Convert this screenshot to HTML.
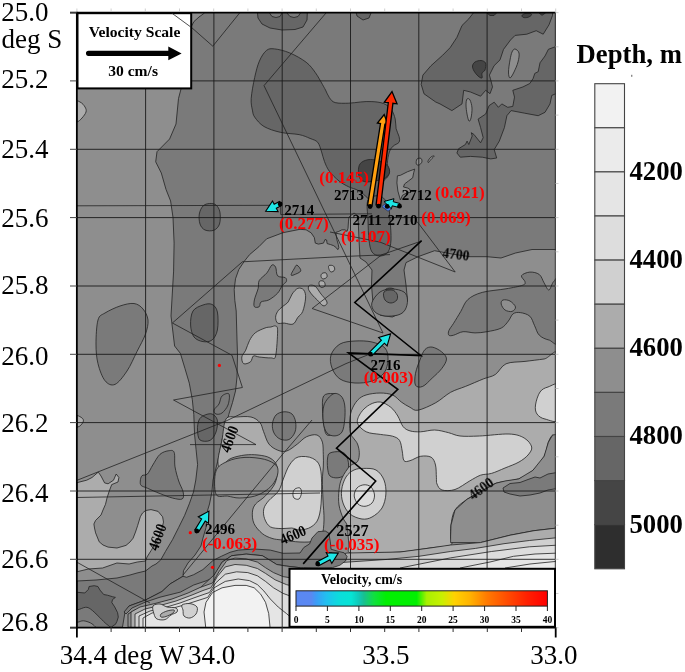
<!DOCTYPE html>
<html><head><meta charset="utf-8"><style>
html,body{margin:0;padding:0;background:#fff;width:685px;height:672px;overflow:hidden}
svg{display:block;will-change:transform}
text{font-family:"Liberation Serif",serif}
</style></head><body>
<svg width="685" height="672" viewBox="0 0 685 672">
<defs><clipPath id="pc"><rect x="77.9" y="13.5" width="477.4" height="613.1"/></clipPath>
<linearGradient id="vg" x1="0" x2="1" y1="0" y2="0"><stop offset="0" stop-color="#5a88f2"/><stop offset="0.06" stop-color="#5a88f2"/><stop offset="0.08" stop-color="#3c9cf6"/><stop offset="0.12" stop-color="#22bff0"/><stop offset="0.17" stop-color="#0cdcdc"/><stop offset="0.22" stop-color="#06e4d4"/><stop offset="0.25" stop-color="#10c8b8"/><stop offset="0.27" stop-color="#18c090"/><stop offset="0.31" stop-color="#10e040"/><stop offset="0.36" stop-color="#00f000"/><stop offset="0.48" stop-color="#00f000"/><stop offset="0.52" stop-color="#a8f000"/><stop offset="0.58" stop-color="#c8f000"/><stop offset="0.63" stop-color="#ffd200"/><stop offset="0.69" stop-color="#ffb400"/><stop offset="0.76" stop-color="#ff7a00"/><stop offset="0.84" stop-color="#ff4c00"/><stop offset="0.92" stop-color="#ff2000"/><stop offset="1" stop-color="#ff0000"/></linearGradient></defs>
<g opacity="0.999">
<g clip-path="url(#pc)">
<rect x="77.9" y="13.5" width="477.4" height="613.1" fill="#8e8e8e"/>
<path d="M201.0,8.0 L560.0,8.0 L560.0,249.5 L532.0,249.5 L515.5,253.0 L501.0,258.0 L487.0,256.7 L470.0,256.7 L453.6,254.3 L434.6,250.7 L418.0,256.7 L406.0,262.6 L404.0,270.0 L406.0,285.0 L407.5,300.0 L403.0,312.0 L392.3,317.0 L380.4,315.3 L373.0,303.4 L371.5,285.0 L372.0,270.0 L366.0,262.0 L360.0,258.0 L359.0,240.0 L358.0,216.0 L354.0,213.0 L349.0,217.0 L348.5,221.1 L348.0,228.3 L347.0,231.4 L345.0,229.8 L341.9,229.8 L338.8,231.4 L335.8,232.4 L336.8,239.5 L338.3,244.6 L338.8,247.7 L337.8,249.7 L336.3,247.7 L333.7,245.7 L330.7,244.6 L327.1,243.6 L326.6,240.0 L325.0,239.5 L323.5,243.1 L318.4,244.1 L315.3,243.1 L314.3,237.5 L311.2,232.9 L306.1,229.8 L300.0,229.3 L283.0,232.7 L266.7,238.8 L258.9,246.7 L249.5,254.7 L244.2,261.4 L238.8,269.5 L235.5,278.8 L234.2,289.5 L234.8,300.3 L236.2,311.0 L237.0,340.0 L237.5,355.0 L237.0,377.0 L235.5,391.0 L232.5,402.5 L228.8,414.4 L226.5,423.3 L222.0,440.0 L218.0,460.0 L213.0,480.0 L211.9,492.0 L209.5,504.0 L207.7,510.0 L206.0,527.6 L203.0,538.0 L200.9,546.1 L195.0,555.0 L188.0,563.0 L183.5,570.7 L183.0,576.3 L170.0,584.0 L162.0,591.5 L145.5,600.0 L129.0,606.0 L125.0,612.0 L122.0,630.0 L70.0,630.0 L70.0,581.0 L77.0,581.0 L96.0,580.0 L117.0,578.0 L130.0,575.0 L137.0,573.0 L145.5,571.0 L152.0,566.0 L156.0,564.0 L160.7,560.0 L165.5,551.4 L172.6,539.5 L178.6,527.6 L184.5,515.7 L189.3,503.8 L193.5,492.0 L195.8,480.0 L197.6,464.6 L196.1,449.8 L194.6,434.9 L193.8,414.4 L192.3,399.5 L189.3,383.2 L184.9,368.3 L180.4,353.4 L174.6,346.0 L171.0,316.0 L173.6,271.1 L174.1,243.1 L173.0,217.4 L170.6,201.0 L166.0,189.4 L161.3,173.0 L157.8,166.0 L155.7,161.8 L157.0,151.7 L169.6,139.0 L176.0,124.0 L178.5,98.5 L181.0,89.0 L186.0,60.0 L191.0,26.0 Z" fill="#7a7a7a" stroke="#222" stroke-width="0.8"/>
<path d="M70.0,100.0 C71.7,96.7 77.5,100.8 80.0,102.0 C82.5,103.2 84.0,105.3 85.0,107.0 C86.0,108.7 86.5,110.2 86.0,112.0 C85.5,113.8 83.5,116.3 82.0,118.0 C80.5,119.7 79.0,121.3 77.0,122.0 C75.0,122.7 71.2,125.7 70.0,122.0 C68.8,118.3 68.3,103.3 70.0,100.0 Z" fill="#acacac" stroke="#222" stroke-width="0.8"/>
<path d="M98.0,320.0 C99.5,314.8 101.3,315.3 105.0,313.0 C108.7,310.7 115.2,307.6 120.0,306.0 C124.8,304.4 130.2,303.0 134.0,303.5 C137.8,304.0 140.7,306.2 143.0,309.0 C145.3,311.8 147.6,315.8 148.0,320.0 C148.4,324.2 147.3,328.8 145.5,334.0 C143.7,339.2 140.1,345.3 137.0,351.5 C133.9,357.7 130.7,365.5 127.0,371.0 C123.3,376.5 118.7,382.8 115.0,384.4 C111.3,386.0 107.8,384.1 105.0,380.7 C102.2,377.2 99.5,369.8 98.0,363.7 C96.5,357.6 96.0,351.3 96.0,344.0 C96.0,336.7 96.5,325.2 98.0,320.0 Z" fill="#7a7a7a" stroke="#222" stroke-width="0.8"/>
<path d="M271.8,265.1 C273.2,264.1 274.6,265.3 275.6,267.1 C276.6,268.9 276.0,274.0 277.6,275.8 C279.2,277.6 283.9,276.7 285.3,277.7 C286.8,278.7 286.8,280.3 286.3,281.6 C285.8,282.9 283.8,283.5 282.4,285.4 C280.9,287.3 279.9,290.8 277.6,293.2 C275.4,295.6 271.6,298.4 268.9,299.9 C266.1,301.3 262.7,300.8 261.1,301.9 C259.5,303.0 260.3,305.9 259.2,306.7 C258.1,307.5 255.2,307.8 254.4,306.7 C253.6,305.6 253.8,303.0 254.4,299.9 C255.0,296.8 257.4,291.5 258.2,288.3 C259.0,285.1 257.8,283.2 259.2,280.6 C260.6,278.0 264.8,275.5 266.9,272.9 C269.0,270.3 270.4,266.1 271.8,265.1 Z" fill="#7a7a7a" stroke="#222" stroke-width="0.8"/>
<path d="M296.9,265.1 C298.0,265.4 301.3,269.3 300.8,270.9 C300.3,272.5 295.6,274.1 294.0,274.8 C292.4,275.5 291.1,275.8 291.1,274.8 C291.1,273.8 293.0,270.6 294.0,269.0 C295.0,267.4 295.8,264.8 296.9,265.1 Z" fill="#7a7a7a" stroke="#222" stroke-width="0.8"/>
<path d="M297.9,288.3 C299.8,287.6 302.4,288.3 303.7,289.9 C305.0,291.5 305.8,294.4 305.6,298.0 C305.4,301.6 304.0,308.3 302.7,311.5 C301.4,314.7 299.5,315.2 297.9,317.3 C296.3,319.4 295.3,323.1 293.0,324.1 C290.7,325.1 286.9,323.3 284.3,323.1 C281.7,322.9 279.1,324.1 277.6,323.1 C276.2,322.1 275.6,319.2 275.6,317.3 C275.6,315.4 276.5,313.3 277.6,311.5 C278.7,309.7 280.6,308.3 282.4,306.7 C284.2,305.1 286.6,304.0 288.2,301.9 C289.8,299.8 290.5,296.4 292.1,294.1 C293.7,291.8 296.0,289.0 297.9,288.3 Z" fill="#acacac" stroke="#222" stroke-width="0.8"/>
<path d="M275.6,326.0 C276.7,326.6 277.6,325.9 277.6,330.9 C277.6,335.9 276.7,351.5 275.6,356.0 C274.5,360.5 273.5,357.7 270.8,357.9 C268.1,358.1 262.1,357.3 259.2,357.0 C256.3,356.7 254.8,355.2 253.4,356.0 C252.0,356.8 252.1,360.5 250.5,361.8 C248.9,363.1 245.1,364.5 243.7,363.7 C242.2,362.9 241.5,359.2 241.8,357.0 C242.1,354.8 244.4,352.9 245.7,350.2 C247.0,347.4 247.9,343.4 249.5,340.5 C251.1,337.6 252.7,334.9 255.3,332.8 C257.9,330.7 262.4,329.0 265.0,328.0 C267.6,327.0 269.0,327.3 270.8,327.0 C272.6,326.7 274.5,325.4 275.6,326.0 Z" fill="#acacac" stroke="#222" stroke-width="0.8"/>
<path d="M309.5,285.4 C310.6,284.9 313.4,284.9 315.3,286.4 C317.2,287.8 319.3,291.9 321.1,294.1 C322.9,296.4 324.9,298.3 325.9,299.9 C326.9,301.5 327.4,302.8 326.9,303.8 C326.4,304.8 324.6,306.4 323.0,305.7 C321.4,305.0 319.0,301.7 317.2,299.9 C315.4,298.1 313.8,296.9 312.4,295.1 C310.9,293.3 309.0,290.9 308.5,289.3 C308.0,287.7 308.4,285.9 309.5,285.4 Z" fill="#acacac" stroke="#222" stroke-width="0.8"/>
<path d="M329.0,265.5 C329.8,265.1 332.6,265.2 333.5,266.0 C334.4,266.8 335.0,269.0 334.6,270.0 C334.2,271.0 332.0,272.2 331.0,272.0 C330.0,271.8 329.1,269.6 328.8,268.5 C328.5,267.4 328.2,265.9 329.0,265.5 Z" fill="#acacac" stroke="#222" stroke-width="0.8"/>
<path d="M322.0,273.5 C322.8,272.9 325.2,272.4 326.0,273.0 C326.8,273.6 327.5,276.0 327.0,277.0 C326.5,278.0 324.0,279.1 323.0,279.0 C322.0,278.9 321.2,277.4 321.0,276.5 C320.8,275.6 321.2,274.1 322.0,273.5 Z" fill="#acacac" stroke="#222" stroke-width="0.8"/>
<path d="M320.0,281.0 C320.8,280.6 323.2,280.7 324.0,281.5 C324.8,282.3 325.5,285.0 325.0,286.0 C324.5,287.0 322.0,287.7 321.0,287.4 C320.0,287.1 319.2,285.1 319.0,284.0 C318.8,282.9 319.2,281.4 320.0,281.0 Z" fill="#acacac" stroke="#222" stroke-width="0.8"/>
<path d="M222.0,396.0 C223.7,394.3 228.0,392.5 229.0,394.0 C230.0,395.5 229.2,401.8 228.0,405.0 C226.8,408.2 224.0,411.5 222.0,413.0 C220.0,414.5 217.3,414.5 216.0,414.0 C214.7,413.5 213.5,411.7 214.0,410.0 C214.5,408.3 217.7,406.3 219.0,404.0 C220.3,401.7 220.3,397.7 222.0,396.0 Z" fill="#7a7a7a" stroke="#222" stroke-width="0.8"/>
<path d="M70.0,415.0 C71.2,413.1 75.0,414.9 77.0,415.4 C79.0,415.9 80.9,417.1 82.0,418.0 C83.1,418.9 83.6,419.8 83.4,421.0 C83.2,422.2 82.1,423.9 81.0,425.0 C79.9,426.1 78.8,427.0 77.0,427.3 C75.2,427.6 71.2,429.1 70.0,427.0 C68.8,424.9 68.8,416.9 70.0,415.0 Z" fill="#acacac" stroke="#222" stroke-width="0.8"/>
<path d="M209.5,203.5 C211.7,203.3 214.3,203.6 216.0,205.0 C217.7,206.4 219.3,208.8 219.9,212.0 C220.5,215.2 220.5,221.0 219.5,224.0 C218.5,227.0 216.4,229.2 214.0,230.2 C211.6,231.2 207.3,231.0 205.0,230.0 C202.7,229.0 200.9,226.7 200.0,224.0 C199.1,221.3 198.8,217.0 199.3,214.0 C199.8,211.0 201.3,207.8 203.0,206.0 C204.7,204.2 207.3,203.7 209.5,203.5 Z" fill="#666666" stroke="#222" stroke-width="0.8"/>
<path d="M203.0,305.0 C206.2,303.9 209.6,303.2 212.0,304.4 C214.4,305.6 216.5,307.7 217.4,312.0 C218.3,316.3 218.3,325.3 217.4,330.0 C216.5,334.7 214.4,338.1 212.0,340.0 C209.6,341.9 206.0,342.1 203.0,341.6 C200.0,341.1 196.1,339.8 194.0,337.0 C191.9,334.2 190.8,329.3 190.6,325.0 C190.4,320.7 190.9,314.3 193.0,311.0 C195.1,307.7 199.8,306.1 203.0,305.0 Z" fill="#666666" stroke="#222" stroke-width="0.8"/>
<path d="M204.0,415.4 C206.2,414.4 209.8,413.2 212.0,414.0 C214.2,414.8 216.6,417.0 217.3,420.0 C218.0,423.0 217.2,428.6 216.0,432.0 C214.8,435.4 212.7,439.1 210.0,440.4 C207.3,441.7 202.1,441.7 200.0,440.0 C197.9,438.3 197.7,433.3 197.5,430.0 C197.3,426.7 197.9,422.4 199.0,420.0 C200.1,417.6 201.8,416.4 204.0,415.4 Z" fill="#666666" stroke="#222" stroke-width="0.8"/>
<path d="M140.3,481.0 C140.4,479.4 140.8,476.9 142.0,475.7 C143.2,474.5 145.6,475.8 147.4,474.0 C149.2,472.2 150.7,468.3 152.8,465.0 C154.9,461.7 157.3,456.7 160.0,454.3 C162.7,451.9 166.5,451.0 168.9,450.7 C171.3,450.4 173.2,449.8 174.2,452.5 C175.2,455.2 174.2,462.1 175.0,466.8 C175.8,471.6 177.3,476.8 178.7,481.0 C180.0,485.2 182.5,488.8 183.1,491.8 C183.7,494.8 184.0,498.0 182.2,499.0 C180.4,500.0 176.1,498.9 172.4,498.0 C168.7,497.1 164.2,495.2 160.0,493.6 C155.8,492.0 150.5,489.6 147.4,488.2 C144.3,486.8 142.4,486.7 141.2,485.5 C140.0,484.3 140.2,482.6 140.3,481.0 Z" fill="#7a7a7a" stroke="#222" stroke-width="0.8"/>
<path d="M70.0,483.0 L76.0,482.9 L86.7,480.2 L92.0,477.5 L98.3,472.1 L101.0,476.0 L104.6,482.9 L108.1,483.8 L113.5,480.2 L116.2,474.0 L118.9,477.5 L118.0,482.0 L111.7,484.6 L109.0,491.8 L107.0,498.0 L105.5,504.3 L103.0,510.0 L101.0,515.0 L95.6,520.4 L93.9,524.0 L94.5,528.0 L95.6,532.9 L99.2,541.8 L103.0,545.0 L108.1,547.1 L117.0,548.0 L126.0,545.4 L130.0,542.0 L133.1,538.2 L135.5,532.0 L137.6,525.7 L140.3,516.8 L142.5,513.0 L145.6,510.5 L151.0,509.6 L158.1,511.4 L162.6,516.8 L163.5,522.1 L161.7,529.3 L159.0,536.0 L156.4,541.8 L151.0,550.7 L147.0,557.0 L145.5,561.0 L137.3,562.0 L129.1,564.0 L116.9,563.0 L102.6,568.0 L88.3,569.0 L76.0,572.0 L70.0,572.0 Z" fill="#acacac" stroke="#222" stroke-width="0.8"/>
<path d="M70.0,592.3 L77.5,592.3 L84.8,593.0 L88.4,589.4 L89.1,586.5 L94.2,585.7 L97.9,586.5 L100.0,590.1 L103.7,594.5 L107.4,595.2 L112.5,596.7 L115.4,597.4 L112.5,599.6 L111.8,602.5 L114.7,606.9 L117.6,612.7 L118.3,617.1 L116.9,621.5 L115.4,624.4 L112.5,626.0 L110.0,630.0 L70.0,630.0 Z" fill="#666666" stroke="#222" stroke-width="0.8"/>
<path d="M70.0,609.8 C71.2,606.4 74.9,610.2 77.5,609.8 C80.1,609.4 83.3,607.4 85.5,607.3 C87.7,607.2 88.5,607.7 90.6,609.1 C92.7,610.5 95.5,613.4 97.9,615.7 C100.3,618.0 103.4,621.3 105.2,623.0 C107.0,624.7 108.0,624.8 108.8,626.0 C109.6,627.2 116.5,629.3 110.0,630.0 C103.5,630.7 76.7,633.4 70.0,630.0 C63.3,626.6 68.8,613.2 70.0,609.8 Z" fill="#7a7a7a" stroke="#222" stroke-width="0.8"/>
<path d="M70.0,622.2 C71.2,620.9 75.3,622.4 77.5,622.2 C79.7,622.0 81.1,620.7 83.3,620.8 C85.5,620.9 88.6,622.0 90.6,623.0 C92.5,624.0 94.1,625.4 95.0,626.6 C95.9,627.8 100.2,629.4 96.0,630.0 C91.8,630.6 74.3,631.3 70.0,630.0 C65.7,628.7 68.8,623.5 70.0,622.2 Z" fill="#8e8e8e" stroke="#222" stroke-width="0.8"/>
<path d="M257.0,8.0 L258.0,18.0 L262.0,24.0 L270.0,28.0 L282.0,30.0 L295.0,29.5 L303.0,27.0 L307.0,20.0 L307.5,8.0 Z" fill="#666666" stroke="#222" stroke-width="0.8"/>
<path d="M269.5,8.0 L269.5,13.0 L272.0,16.5 L276.0,17.5 L280.0,16.5 L282.0,13.0 L282.0,8.0 Z" fill="#7a7a7a" stroke="#222" stroke-width="0.8"/>
<path d="M287.0,8.0 L287.0,13.0 L290.0,16.5 L294.0,17.5 L298.0,16.5 L300.5,13.0 L300.5,8.0 Z" fill="#7a7a7a" stroke="#222" stroke-width="0.8"/>
<path d="M191.0,8.0 L206.0,8.0 L204.5,13.0 L199.0,17.0 L194.0,21.5 L191.0,27.0 Z" fill="#8e8e8e" stroke="#222" stroke-width="0.8"/>
<path d="M355.0,8.0 L357.0,16.0 L363.0,20.0 L369.0,18.0 L371.0,13.0 L371.5,8.0 Z" fill="#666666" stroke="#222" stroke-width="0.8"/>
<path d="M266.4,50.5 C268.9,48.5 270.6,48.5 274.5,48.9 C278.4,49.3 284.4,50.7 289.7,52.9 C295.0,55.1 301.8,58.9 306.1,62.2 C310.4,65.5 312.7,69.0 315.4,72.7 C318.1,76.4 320.7,81.5 322.4,84.4 C324.1,87.3 324.3,87.8 325.5,90.0 C326.7,92.2 327.8,95.6 329.4,97.7 C331.0,99.8 332.0,101.7 335.2,102.6 C338.4,103.5 344.5,103.3 348.7,103.2 C352.9,103.1 356.4,102.3 360.3,102.0 C364.2,101.7 368.0,101.3 371.9,101.6 C375.8,101.8 380.3,102.2 383.5,103.5 C386.7,104.8 389.4,106.8 391.3,109.4 C393.2,112.0 394.4,115.8 395.2,119.0 C396.0,122.2 395.5,125.8 396.1,128.7 C396.7,131.6 398.5,134.1 399.0,136.4 C399.5,138.7 400.0,140.7 399.0,142.3 C398.0,143.9 394.8,144.5 393.2,146.1 C391.6,147.7 390.4,149.0 389.4,151.9 C388.4,154.8 387.4,160.3 387.4,163.5 C387.4,166.7 389.4,169.0 389.4,171.3 C389.4,173.6 388.4,175.5 387.4,177.1 C386.4,178.7 384.9,178.8 383.5,181.0 C382.1,183.2 380.1,186.8 379.0,190.0 C377.9,193.2 377.8,197.3 377.0,200.0 C376.2,202.7 375.5,206.3 374.0,206.0 C372.5,205.7 370.6,201.0 368.0,198.4 C365.4,195.8 361.6,192.5 358.4,190.6 C355.2,188.7 351.9,188.4 348.7,186.8 C345.5,185.2 342.2,183.6 339.0,181.0 C335.8,178.4 331.8,174.5 329.4,171.3 C327.0,168.1 325.8,164.8 324.5,161.6 C323.2,158.4 322.7,155.1 321.6,151.9 C320.5,148.7 319.6,144.6 317.7,142.3 C315.8,140.1 313.1,139.7 310.0,138.4 C306.9,137.1 304.0,135.6 299.1,134.6 C294.2,133.6 286.2,133.7 280.4,132.3 C274.5,131.0 268.3,129.0 264.0,126.5 C259.7,124.0 256.6,119.8 254.7,117.1 C252.8,114.4 253.0,113.2 252.4,110.1 C251.8,107.0 250.8,103.9 251.2,98.4 C251.6,93.0 253.3,83.6 254.7,77.4 C256.1,71.2 257.4,65.6 259.4,61.1 C261.3,56.6 263.9,52.5 266.4,50.5 Z" fill="#666666" stroke="#222" stroke-width="0.8"/>
<path d="M360.3,163.5 C361.9,161.6 365.1,160.2 368.0,159.7 C370.9,159.2 374.5,159.6 377.7,160.6 C380.9,161.6 385.4,163.4 387.4,165.5 C389.3,167.6 390.0,170.9 389.4,173.2 C388.8,175.4 386.1,177.7 383.5,179.0 C380.9,180.3 376.8,180.5 373.9,181.0 C371.0,181.5 368.4,182.2 366.1,181.9 C363.8,181.6 361.6,180.8 360.3,179.0 C359.0,177.2 358.4,173.9 358.4,171.3 C358.4,168.7 358.7,165.4 360.3,163.5 Z" fill="#454545" stroke="#222" stroke-width="0.8"/>
<path d="M368.0,200.0 C370.0,196.0 376.7,195.2 380.0,196.0 C383.3,196.8 386.3,201.0 388.0,205.0 C389.7,209.0 389.5,214.2 390.0,220.0 C390.5,225.8 391.3,234.7 391.0,240.0 C390.7,245.3 389.8,249.3 388.0,252.0 C386.2,254.7 382.7,256.0 380.0,256.0 C377.3,256.0 373.8,254.7 372.0,252.0 C370.2,249.3 369.7,245.3 369.0,240.0 C368.3,234.7 368.2,226.7 368.0,220.0 C367.8,213.3 366.0,204.0 368.0,200.0 Z" fill="#666666" stroke="#222" stroke-width="0.8"/>
<path d="M386.0,289.0 C387.7,287.9 391.2,287.8 393.0,288.5 C394.8,289.2 396.4,291.1 397.0,293.0 C397.6,294.9 397.8,298.3 396.8,300.0 C395.8,301.7 393.1,302.8 391.0,303.0 C388.9,303.2 385.3,302.3 384.0,301.0 C382.7,299.7 382.7,297.0 383.0,295.0 C383.3,293.0 384.3,290.1 386.0,289.0 Z" fill="#666666" stroke="#222" stroke-width="0.8"/>
<path d="M397.4,175.8 L400.4,175.3 L407.6,171.7 L414.7,169.1 L413.7,172.7 L412.7,177.8 L408.6,180.9 L404.5,184.0 L403.5,187.0 L407.6,188.0 L409.6,189.0 L410.7,192.1 L406.6,193.1 L402.5,195.2 L400.4,200.0 L397.9,191.1 L396.9,182.9 Z" fill="#8e8e8e" stroke="#222" stroke-width="0.8"/>
<path d="M417.0,159.0 C417.8,158.1 420.2,157.9 421.0,158.4 C421.8,158.9 422.2,160.9 421.9,162.0 C421.6,163.1 419.9,164.7 419.0,165.0 C418.1,165.3 416.6,165.0 416.3,164.0 C416.0,163.0 416.2,159.9 417.0,159.0 Z" fill="#8e8e8e" stroke="#222" stroke-width="0.8"/>
<path d="M428.0,161.0 C428.4,160.1 430.0,157.8 431.0,157.0 C432.0,156.2 434.2,155.6 434.2,156.0 C434.2,156.4 431.9,158.4 431.0,159.5 C430.1,160.6 429.0,162.2 428.5,162.5 C428.0,162.8 427.6,161.9 428.0,161.0 Z" fill="#8e8e8e" stroke="#222" stroke-width="0.8"/>
<path d="M475.6,8.0 L475.6,10.0 L468.8,18.8 L462.0,25.5 L456.9,37.4 L450.2,47.6 L442.7,55.2 L431.0,65.7 L422.9,75.1 L421.2,84.4 L424.0,93.8 L435.7,102.0 L440.0,103.9 L451.9,110.6 L462.0,103.9 L463.7,90.3 L470.5,92.0 L480.6,96.2 L485.7,90.3 L490.0,93.7 L492.5,86.9 L490.8,80.2 L489.4,75.1 L494.1,65.7 L500.0,59.9 L503.5,49.4 L510.5,40.0 L515.1,35.4 L526.8,34.2 L536.2,30.7 L543.2,34.2 L549.0,24.8 L552.5,15.5 L553.0,8.0 Z" fill="#666666" stroke="#222" stroke-width="0.8"/>
<path d="M475.0,62.0 C476.4,61.1 479.2,60.3 481.0,60.5 C482.8,60.7 484.8,61.4 485.5,63.0 C486.2,64.6 485.6,68.3 485.0,70.0 C484.4,71.7 482.5,71.7 482.0,73.0 C481.5,74.3 482.7,77.5 482.0,78.0 C481.3,78.5 479.3,77.2 478.0,76.0 C476.7,74.8 474.9,72.7 474.0,71.0 C473.1,69.3 472.3,67.5 472.5,66.0 C472.7,64.5 473.6,62.9 475.0,62.0 Z" fill="#454545" stroke="#222" stroke-width="0.8"/>
<path d="M515.0,49.0 C516.2,49.2 518.5,50.8 519.0,53.0 C519.5,55.2 518.8,58.8 518.0,62.0 C517.2,65.2 515.3,69.3 514.0,72.0 C512.7,74.7 510.9,78.0 510.0,78.0 C509.1,78.0 508.5,75.0 508.5,72.0 C508.5,69.0 509.4,63.3 510.0,60.0 C510.6,56.7 511.2,53.8 512.0,52.0 C512.8,50.2 513.8,48.8 515.0,49.0 Z" fill="#8e8e8e" stroke="#222" stroke-width="0.8"/>
<path d="M467.0,99.0 C467.7,98.2 469.2,98.5 470.0,100.0 C470.8,101.5 471.8,105.0 472.0,108.0 C472.2,111.0 471.5,115.8 471.0,118.0 C470.5,120.2 469.7,121.7 469.0,121.0 C468.3,120.3 467.5,116.7 467.0,114.0 C466.5,111.3 466.0,107.5 466.0,105.0 C466.0,102.5 466.3,99.8 467.0,99.0 Z" fill="#8e8e8e" stroke="#222" stroke-width="0.8"/>
<path d="M487.0,8.0 L487.0,13.0 L490.0,15.5 L494.0,15.5 L496.5,13.0 L496.5,8.0 Z" fill="#454545" stroke="#222" stroke-width="0.8"/>
<path d="M522.0,15.5 C522.2,14.8 523.7,13.9 525.0,13.5 C526.3,13.1 528.9,12.9 530.0,13.2 C531.1,13.4 531.8,14.3 531.5,15.0 C531.2,15.7 529.3,16.9 528.0,17.3 C526.7,17.7 524.5,17.8 523.5,17.5 C522.5,17.2 521.8,16.2 522.0,15.5 Z" fill="#454545" stroke="#222" stroke-width="0.8"/>
<path d="M539.0,8.0 L539.0,13.0 L542.0,15.3 L545.5,13.0 L545.5,8.0 Z" fill="#454545" stroke="#222" stroke-width="0.8"/>
<path d="M560.0,45.0 L548.4,49.3 L545.0,56.0 L540.0,62.8 L538.2,71.7 L534.8,73.4 L533.1,78.5 L529.8,83.5 L523.0,86.9 L512.8,90.3 L514.5,97.1 L512.8,106.4 L507.7,107.3 L501.8,103.9 L498.4,107.3 L494.2,102.2 L489.1,105.6 L485.7,114.0 L478.1,119.1 L480.6,127.6 L483.2,137.7 L480.6,142.8 L473.9,134.4 L471.3,132.7 L472.2,136.0 L468.8,144.5 L467.1,141.1 L465.4,144.5 L458.6,148.7 L456.9,153.0 L460.3,157.2 L470.5,156.4 L482.3,157.2 L490.8,158.9 L496.7,158.0 L494.2,149.6 L499.3,141.1 L504.4,127.6 L506.9,115.7 L511.1,110.6 L524.7,113.2 L538.2,115.7 L545.0,112.3 L550.0,103.9 L551.8,95.4 L560.0,92.0 Z" fill="#666666" stroke="#222" stroke-width="0.8"/>
<path d="M448.9,330.5 C449.7,328.5 451.6,326.5 453.6,323.3 C455.6,320.1 458.4,315.4 460.8,311.4 C463.2,307.4 464.3,302.7 467.9,299.5 C471.5,296.3 475.8,294.2 482.2,292.4 C488.6,290.6 499.2,290.0 506.0,288.8 C512.8,287.6 519.5,286.4 522.7,285.2 C525.9,284.0 525.2,283.3 525.0,281.7 C524.8,280.1 520.7,277.3 521.5,275.7 C522.3,274.1 526.8,272.3 529.8,272.1 C532.8,271.9 536.9,272.7 539.3,274.5 C541.7,276.3 542.5,280.3 544.1,282.9 C545.7,285.5 547.3,290.2 548.9,290.0 C550.5,289.8 551.8,283.3 553.6,281.7 C555.5,280.1 558.9,270.8 560.0,280.5 C561.1,290.2 561.9,330.1 560.0,340.0 C558.1,349.9 552.4,340.8 548.9,340.0 C545.4,339.2 541.7,337.6 539.3,335.2 C536.9,332.8 536.2,328.9 534.6,325.7 C533.0,322.5 532.2,318.4 529.8,316.2 C527.4,314.0 523.1,313.0 520.3,312.6 C517.5,312.2 515.1,312.4 513.1,313.8 C511.1,315.2 510.4,318.6 508.4,321.0 C506.4,323.4 504.8,326.3 501.2,328.1 C497.6,329.9 491.4,330.9 487.0,331.7 C482.6,332.5 479.0,332.9 475.0,332.9 C471.0,332.9 466.7,331.3 463.1,331.7 C459.5,332.1 456.0,334.6 453.6,335.2 C451.2,335.8 449.7,336.0 448.9,335.2 C448.1,334.4 448.1,332.5 448.9,330.5 Z" fill="#7a7a7a" stroke="#222" stroke-width="0.8"/>
<path d="M503.0,300.0 C504.5,299.5 507.9,299.8 510.0,301.0 C512.1,302.2 515.2,305.3 515.5,307.0 C515.8,308.7 513.8,310.9 512.0,311.4 C510.2,311.9 506.8,311.2 505.0,310.0 C503.2,308.8 501.5,305.7 501.2,304.0 C500.9,302.3 501.5,300.5 503.0,300.0 Z" fill="#8e8e8e" stroke="#222" stroke-width="0.8"/>
<path d="M432.2,347.1 C435.0,347.5 439.3,349.9 441.7,351.9 C444.1,353.9 446.5,356.2 446.5,359.0 C446.5,361.8 444.1,365.4 441.7,368.6 C439.3,371.8 435.4,375.1 432.2,378.1 C429.0,381.1 425.5,385.2 422.7,386.4 C419.9,387.6 416.7,387.4 415.5,385.2 C414.3,383.0 414.7,377.7 415.5,373.3 C416.3,368.9 418.7,363.0 420.3,359.0 C421.9,355.0 423.0,351.5 425.0,349.5 C427.0,347.5 429.4,346.7 432.2,347.1 Z" fill="#7a7a7a" stroke="#222" stroke-width="0.8"/>
<path d="M371.8,303.0 C372.6,299.7 376.6,294.3 380.0,292.0 C383.4,289.7 388.0,289.0 392.0,289.0 C396.0,289.0 401.4,290.2 404.0,292.0 C406.6,293.8 407.3,297.0 407.5,300.0 C407.7,303.0 406.6,307.5 405.0,310.0 C403.4,312.5 401.3,314.0 398.0,315.0 C394.7,316.0 388.8,316.5 385.0,316.0 C381.2,315.5 377.2,314.2 375.0,312.0 C372.8,309.8 371.0,306.3 371.8,303.0 Z" fill="#7a7a7a" stroke="#222" stroke-width="0.8"/>
<path d="M384.0,292.0 C385.2,290.3 389.8,289.7 392.0,290.0 C394.2,290.3 396.2,292.3 397.0,294.0 C397.8,295.7 397.8,298.5 396.8,300.0 C395.8,301.5 393.0,303.0 391.0,303.0 C389.0,303.0 386.2,301.8 385.0,300.0 C383.8,298.2 382.8,293.7 384.0,292.0 Z" fill="#666666" stroke="#222" stroke-width="0.8"/>
<path d="M331.0,355.0 C332.3,351.0 336.0,346.3 340.0,344.0 C344.0,341.7 349.7,341.3 355.0,341.0 C360.3,340.7 367.0,340.8 372.0,342.0 C377.0,343.2 382.3,345.0 385.0,348.0 C387.7,351.0 388.2,355.8 388.0,360.0 C387.8,364.2 386.7,369.5 384.0,373.0 C381.3,376.5 376.8,379.3 372.0,381.0 C367.2,382.7 360.3,383.3 355.0,383.0 C349.7,382.7 343.8,381.5 340.0,379.0 C336.2,376.5 333.5,372.0 332.0,368.0 C330.5,364.0 329.7,359.0 331.0,355.0 Z" fill="#7a7a7a" stroke="#222" stroke-width="0.8"/>
<path d="M323.6,396.0 C325.4,393.3 330.1,393.4 333.0,393.6 C335.9,393.8 339.3,395.1 341.0,397.0 C342.7,398.9 342.9,401.2 343.0,405.0 C343.1,408.8 342.8,415.5 341.6,420.0 C340.4,424.5 338.4,429.5 336.0,432.0 C333.6,434.5 329.0,436.2 327.0,435.0 C325.0,433.8 324.6,429.2 323.8,425.0 C323.1,420.8 322.5,414.8 322.5,410.0 C322.5,405.2 321.9,398.7 323.6,396.0 Z" fill="#7a7a7a" stroke="#222" stroke-width="0.8"/>
<path d="M222.0,440.0 C223.3,433.2 223.6,422.8 226.0,419.0 C228.4,415.2 232.5,417.3 236.7,417.0 C240.9,416.7 247.1,416.1 251.0,417.0 C254.9,417.9 257.8,420.1 259.9,422.5 C262.0,424.9 262.0,427.8 263.5,431.4 C265.0,435.0 266.5,440.9 268.9,444.0 C271.3,447.1 274.8,449.0 277.8,450.2 C280.8,451.4 283.4,452.0 286.7,451.0 C290.0,450.0 294.1,446.4 297.4,444.0 C300.7,441.6 303.1,438.3 306.4,436.8 C309.7,435.3 314.3,434.1 317.0,435.0 C319.7,435.9 321.3,438.8 322.4,442.1 C323.4,445.4 323.1,450.5 323.3,454.6 C323.5,458.8 323.5,462.8 323.3,467.0 C323.1,471.2 322.4,474.5 322.4,480.0 C322.3,485.5 322.7,493.3 323.0,500.0 C323.3,506.7 324.2,514.2 324.0,520.0 C323.8,525.8 323.5,531.5 322.0,535.0 C320.5,538.5 318.7,539.8 315.0,541.0 C311.3,542.2 305.5,542.2 300.0,542.0 C294.5,541.8 286.7,540.6 282.0,540.0 C277.3,539.4 275.3,539.5 272.0,538.4 C268.7,537.3 265.2,536.0 262.2,533.5 C259.2,531.0 255.6,527.1 254.0,523.6 C252.4,520.1 252.1,515.5 252.4,512.2 C252.7,508.9 253.4,506.7 255.6,504.0 C257.8,501.3 262.2,499.4 265.5,495.8 C268.8,492.2 273.4,487.6 275.3,482.7 C277.2,477.8 277.9,470.5 277.0,466.4 C276.1,462.3 273.2,459.9 270.0,458.0 C266.8,456.1 262.2,455.5 258.0,455.0 C253.8,454.5 249.3,454.5 245.0,455.0 C240.7,455.5 235.2,456.8 232.0,458.0 C228.8,459.2 228.0,460.3 226.0,462.0 C224.0,463.7 221.3,468.3 220.0,468.0 C218.7,467.7 217.7,464.7 218.0,460.0 C218.3,455.3 220.7,446.8 222.0,440.0 Z" fill="#acacac" stroke="#222" stroke-width="0.8"/>
<path d="M216.0,471.0 C217.9,465.5 222.8,463.6 227.6,461.3 C232.4,459.0 238.9,457.7 245.0,457.4 C251.1,457.1 259.2,458.0 264.4,459.3 C269.6,460.6 273.8,462.9 276.0,465.2 C278.2,467.5 278.2,470.0 277.9,472.9 C277.6,475.8 275.9,479.7 274.0,482.6 C272.1,485.5 269.5,488.1 266.3,490.3 C263.1,492.6 259.2,494.8 254.7,496.1 C250.2,497.4 243.7,498.0 239.2,498.0 C234.7,498.0 231.5,496.7 227.6,496.1 C223.7,495.5 217.9,498.4 216.0,494.2 C214.1,490.0 214.1,476.5 216.0,471.0 Z" fill="#8e8e8e" stroke="#222" stroke-width="0.8"/>
<path d="M284.0,411.8 C286.7,411.6 290.1,412.3 292.0,414.0 C293.9,415.7 295.1,419.0 295.6,422.0 C296.1,425.0 296.1,429.1 295.0,432.0 C293.9,434.9 291.5,438.3 289.0,439.5 C286.5,440.7 282.5,440.1 280.0,439.0 C277.5,437.9 275.3,435.5 274.0,433.0 C272.7,430.5 272.1,427.0 272.4,424.0 C272.7,421.0 274.1,417.0 276.0,415.0 C277.9,413.0 281.3,412.0 284.0,411.8 Z" fill="#7a7a7a" stroke="#222" stroke-width="0.8"/>
<path d="M333.0,394.0 C335.8,392.5 339.1,394.2 341.0,396.0 C342.9,397.8 344.1,401.0 344.7,405.0 C345.3,409.0 345.1,415.5 344.7,420.0 C344.2,424.5 343.6,429.4 342.0,432.0 C340.4,434.6 337.5,435.7 335.0,435.9 C332.5,436.1 328.9,435.3 327.0,433.0 C325.1,430.7 323.8,426.7 323.3,422.0 C322.8,417.3 322.4,409.7 324.0,405.0 C325.6,400.3 330.2,395.5 333.0,394.0 Z" fill="#7a7a7a" stroke="#222" stroke-width="0.8"/>
<path d="M330.0,453.0 C332.1,451.9 337.3,451.4 340.0,451.7 C342.7,452.0 344.6,452.8 346.0,455.0 C347.4,457.2 348.6,461.8 348.6,465.0 C348.6,468.2 347.8,471.9 346.0,474.0 C344.2,476.1 340.7,477.5 338.0,477.8 C335.3,478.1 331.7,477.6 330.0,476.0 C328.3,474.4 328.0,471.0 327.6,468.0 C327.2,465.0 327.2,460.5 327.6,458.0 C328.0,455.5 327.9,454.1 330.0,453.0 Z" fill="#7a7a7a" stroke="#222" stroke-width="0.8"/>
<path d="M298.2,457.0 C302.1,455.9 309.0,456.4 312.7,458.4 C316.4,460.4 319.1,462.4 320.5,469.0 C321.9,475.6 321.7,489.8 321.4,498.0 C321.1,506.2 320.2,513.2 318.5,518.0 C316.8,522.8 314.1,525.0 311.0,527.0 C307.9,529.0 303.2,529.8 300.0,530.0 C296.8,530.2 294.7,528.2 291.7,528.0 C288.7,527.8 285.4,528.8 281.8,528.6 C278.2,528.4 273.3,528.5 270.4,526.9 C267.5,525.2 265.7,521.7 264.6,518.7 C263.5,515.7 263.1,511.9 263.8,508.9 C264.5,505.9 266.2,503.7 268.7,500.7 C271.2,497.7 276.1,494.7 278.6,490.9 C281.1,487.1 281.9,482.3 283.7,478.0 C285.5,473.7 287.1,468.5 289.5,465.0 C291.9,461.5 294.3,458.1 298.2,457.0 Z" fill="#d0d0d0" stroke="#222" stroke-width="0.8"/>
<path d="M295.0,489.0 C296.2,488.2 298.9,487.3 300.0,488.0 C301.1,488.7 301.7,491.2 301.5,493.0 C301.3,494.8 300.2,498.2 299.0,499.0 C297.8,499.8 295.0,499.0 294.0,498.0 C293.0,497.0 292.8,494.5 293.0,493.0 C293.2,491.5 293.8,489.8 295.0,489.0 Z" fill="#dddddd" stroke="#222" stroke-width="0.8"/>
<path d="M357.5,400.3 C359.9,397.7 362.2,396.2 366.0,395.0 C369.8,393.8 375.6,393.0 380.0,393.0 C384.4,393.0 389.1,393.5 392.6,395.0 C396.2,396.5 398.4,399.9 401.3,402.0 C404.2,404.1 407.2,405.9 410.0,407.3 C412.8,408.7 413.7,411.0 418.0,410.2 C422.3,409.4 430.4,405.7 435.8,402.7 C441.2,399.7 445.7,395.0 450.6,392.3 C455.6,389.6 460.0,388.6 465.5,386.4 C471.0,384.2 478.4,380.9 483.4,378.9 C488.4,376.9 491.5,377.0 495.3,374.5 C499.1,372.0 501.1,366.0 506.0,363.8 C510.9,361.6 518.6,362.2 525.0,361.4 C531.4,360.6 538.3,359.8 544.1,359.0 C549.9,358.2 557.4,344.2 560.0,356.7 C562.6,369.1 561.2,420.6 560.0,433.7 C558.8,446.8 554.5,433.7 552.6,435.1 C550.7,436.5 549.8,438.7 548.4,442.2 C547.0,445.7 546.7,451.6 544.1,456.3 C541.5,461.0 537.0,466.6 532.8,470.4 C528.6,474.2 524.8,476.8 518.7,478.9 C512.6,481.0 502.1,481.2 496.0,483.2 C489.9,485.2 486.8,488.3 482.0,491.0 C477.2,493.7 471.5,496.1 467.0,499.3 C462.5,502.5 457.7,505.7 455.0,510.0 C452.3,514.3 451.7,520.5 451.0,525.0 C450.3,529.5 450.7,533.4 450.6,536.7 C450.5,540.0 454.0,543.1 450.6,545.0 C447.2,546.9 438.4,546.8 430.0,548.0 C421.6,549.2 410.0,551.2 400.0,552.0 C390.0,552.8 378.3,552.8 370.0,553.0 C361.7,553.2 353.5,554.3 350.0,553.0 C346.5,551.7 349.3,548.0 349.0,545.0 C348.7,542.0 348.3,538.3 348.0,535.0 C347.7,531.7 347.8,527.8 347.0,525.0 C346.2,522.2 344.3,521.3 343.0,518.0 C341.7,514.7 339.7,509.7 339.0,505.0 C338.3,500.3 338.5,494.5 339.0,490.0 C339.5,485.5 340.2,482.0 342.0,478.0 C343.8,474.0 347.4,468.7 350.0,466.0 C352.6,463.3 355.9,463.8 357.5,461.6 C359.1,459.4 359.3,455.7 359.3,452.8 C359.3,449.9 358.4,446.3 357.5,444.0 C356.6,441.7 355.2,440.6 354.0,438.8 C352.8,437.1 351.2,436.1 350.5,433.5 C349.8,430.9 349.5,426.8 349.6,423.0 C349.8,419.2 350.1,414.6 351.4,410.8 C352.7,407.0 355.1,402.9 357.5,400.3 Z" fill="#acacac" stroke="#222" stroke-width="0.8"/>
<path d="M357.5,423.0 C356.6,419.8 358.9,415.6 361.0,412.5 C363.1,409.4 366.6,406.4 369.8,404.6 C373.0,402.9 376.8,401.6 380.3,402.0 C383.8,402.4 387.9,405.0 390.8,407.3 C393.7,409.6 395.8,412.8 397.8,416.0 C399.8,419.2 401.0,424.0 403.0,426.5 C405.0,429.0 407.1,430.0 410.0,430.9 C412.9,431.8 416.5,431.9 420.6,431.8 C424.7,431.7 429.9,429.9 434.6,430.0 C439.3,430.1 444.4,431.7 448.6,432.7 C452.8,433.7 454.9,435.4 460.0,436.0 C465.1,436.6 471.2,436.3 479.4,436.0 C487.6,435.7 501.5,433.7 509.0,434.0 C516.5,434.3 520.4,435.8 524.2,438.0 C528.0,440.2 531.1,444.2 531.7,447.0 C532.3,449.8 530.1,452.5 528.0,455.0 C525.9,457.5 522.8,459.8 519.0,462.0 C515.2,464.2 509.6,466.1 505.0,468.0 C500.4,469.9 495.6,472.2 491.5,473.4 C487.4,474.6 484.1,473.9 480.5,475.2 C476.9,476.5 473.9,478.6 469.6,481.0 C465.4,483.4 459.6,488.0 455.0,489.5 C450.4,491.0 445.0,490.9 442.0,490.0 C439.0,489.1 437.9,486.1 437.0,484.0 C436.1,481.9 436.6,480.5 436.4,477.3 C436.1,474.1 436.4,468.4 435.5,465.0 C434.6,461.6 433.6,458.6 431.1,457.2 C428.6,455.8 424.1,455.7 420.6,456.3 C417.1,456.9 412.8,460.0 410.0,460.7 C407.2,461.4 405.3,462.3 404.0,460.7 C402.7,459.1 402.9,454.4 402.2,451.0 C401.5,447.6 401.2,443.0 399.6,440.5 C398.0,438.0 395.8,437.2 392.6,436.2 C389.4,435.2 384.7,435.1 380.3,434.4 C375.9,433.7 370.1,433.7 366.3,431.8 C362.5,429.9 358.4,426.2 357.5,423.0 Z" fill="#d0d0d0" stroke="#222" stroke-width="0.8"/>
<path d="M535.5,405.0 C536.0,401.3 537.9,395.0 540.0,392.0 C542.1,389.0 544.7,388.0 548.0,387.0 C551.3,386.0 558.0,380.7 560.0,386.0 C562.0,391.3 562.5,413.5 560.0,419.0 C557.5,424.5 548.8,419.8 545.0,419.0 C541.2,418.2 538.6,416.3 537.0,414.0 C535.4,411.7 535.0,408.7 535.5,405.0 Z" fill="#d0d0d0" stroke="#222" stroke-width="0.8"/>
<path d="M363.8,468.4 C367.5,468.4 372.6,468.1 376.0,470.0 C379.4,471.9 382.4,476.0 384.0,480.0 C385.6,484.0 386.2,489.3 385.9,494.0 C385.6,498.7 384.3,504.2 382.0,508.0 C379.7,511.8 375.3,515.2 372.0,517.0 C368.7,518.8 365.7,519.5 362.0,519.0 C358.3,518.5 353.2,516.7 350.0,514.0 C346.8,511.3 344.4,507.0 343.0,503.0 C341.6,499.0 341.1,494.3 341.6,490.0 C342.1,485.7 343.9,480.3 346.0,477.0 C348.1,473.7 351.0,471.4 354.0,470.0 C357.0,468.6 360.1,468.4 363.8,468.4 Z" fill="#d0d0d0" stroke="#222" stroke-width="0.8"/>
<path d="M364.0,484.8 C366.3,484.6 369.2,485.3 371.0,487.0 C372.8,488.7 374.3,492.3 374.5,495.0 C374.7,497.7 373.6,501.1 372.0,503.0 C370.4,504.9 367.3,506.1 365.0,506.3 C362.7,506.5 359.8,505.7 358.0,504.0 C356.2,502.3 354.4,498.7 354.2,496.0 C354.0,493.3 355.4,489.9 357.0,488.0 C358.6,486.1 361.7,485.0 364.0,484.8 Z" fill="#dddddd" stroke="#222" stroke-width="0.8"/>
<path d="M450.6,542.6 L450.6,536.0 L451.0,525.0 L455.0,510.0 L467.0,499.3 L482.0,491.0 L496.0,483.2 L505.0,481.0 L518.7,478.9 L532.8,470.4 L544.1,456.3 L548.4,442.2 L552.6,435.1 L560.0,433.7 L560.0,527.7 L534.0,530.7 L510.2,535.2 L480.4,542.6 Z" fill="#8e8e8e" stroke="#222" stroke-width="0.8"/>
<path d="M503.0,488.0 L510.0,483.5 L520.0,482.5 L528.0,479.5 L535.0,477.0 L540.0,478.0 L548.0,474.0 L560.0,472.0 L560.0,488.0 L548.0,490.0 L540.0,493.0 L530.0,495.0 L520.0,496.0 L510.0,494.0 L504.0,492.0 Z" fill="#7a7a7a" stroke="#222" stroke-width="0.8"/>
<path d="M296.0,562.0 L320.0,560.0 L347.0,553.0 L400.0,552.0 L430.0,548.0 L450.6,545.0 L480.4,542.6 L510.2,535.2 L534.0,530.7 L560.0,527.7 L560.0,570.0 L296.0,570.0 Z" fill="#acacac" stroke="#222" stroke-width="0.8"/>
<path d="M296.0,566.0 L320.0,564.5 L340.0,562.6 L387.3,559.4 L418.9,556.3 L450.4,551.5 L475.6,548.4 L504.0,543.7 L529.3,540.5 L560.0,537.4 L560.0,570.0 L296.0,570.0 Z" fill="#d0d0d0" stroke="#222" stroke-width="0.8"/>
<path d="M400.0,568.0 L450.4,557.9 L491.4,551.5 L529.3,546.8 L560.0,545.0 L560.0,570.0 L400.0,570.0 Z" fill="#dddddd" stroke="#222" stroke-width="0.8"/>
<path d="M460.0,568.0 L490.0,562.0 L513.5,556.3 L535.0,554.0 L560.0,553.0 L560.0,570.0 L460.0,570.0 Z" fill="#e5e5e5" stroke="#222" stroke-width="0.8"/>
<path d="M505.0,568.0 L530.0,564.0 L560.0,561.0 L560.0,570.0 L505.0,570.0 Z" fill="#ebebeb" stroke="#222" stroke-width="0.8"/>
<path d="M183.0,576.3 L186.6,577.3 L193.7,574.7 L202.9,569.6 L213.1,560.4 L221.3,556.3 L230.0,552.3 L238.2,550.1 L254.2,549.0 L270.3,550.1 L283.1,553.3 L300.0,553.0 L303.8,547.5 L309.6,543.9 L312.0,538.0 L317.9,531.7 L325.2,531.0 L328.8,533.1 L330.3,541.9 L331.0,549.2 L338.3,551.4 L344.2,552.8 L347.1,556.5 L345.6,560.9 L339.8,565.3 L332.5,567.6 L318.4,567.8 L303.8,567.5 L300.0,567.7 L286.4,566.1 L276.7,564.5 L270.3,560.5 L262.3,555.7 L246.2,554.1 L231.8,555.7 L222.1,562.1 L217.2,570.7 L213.1,577.8 L206.0,580.9 L193.7,585.0 L180.4,592.1 L160.0,597.2 L145.5,602.0 L132.0,608.0 L126.0,614.0 L124.0,612.0 L129.0,606.0 L145.5,600.0 L162.0,591.5 L170.0,584.0 Z" fill="#7a7a7a" stroke="#222" stroke-width="0.8"/>
<path d="M214.1,575.0 L222.1,562.1 L231.8,555.7 L246.2,554.1 L262.3,555.7 L270.3,560.5 L276.7,564.5 L286.4,566.1 L300.0,567.7 L300.0,630.0 L128.0,630.0 L128.0,614.0 L135.0,610.0 L150.0,606.0 L170.0,600.0 L185.0,596.0 L200.0,588.0 Z" fill="#8e8e8e" stroke="#222" stroke-width="0.8"/>
<path d="M212.5,583.0 L218.9,571.8 L226.9,560.5 L235.0,558.1 L246.2,558.9 L257.4,562.1 L265.5,567.7 L273.5,572.6 L283.1,576.6 L292.8,578.2 L300.0,580.0 L300.0,630.0 L131.0,630.0 L131.0,612.0 L140.0,607.0 L155.0,603.5 L172.0,599.0 L188.0,593.0 L200.0,587.5 Z" fill="#acacac" stroke="#222" stroke-width="0.8"/>
<path d="M210.9,587.8 L217.3,576.6 L225.3,566.9 L235.0,564.5 L246.2,565.3 L257.4,568.5 L265.5,573.4 L275.1,579.8 L286.4,584.6 L300.0,588.0 L300.0,630.0 L135.0,630.0 L135.0,614.0 L145.0,609.0 L160.0,605.5 L176.0,601.0 L192.0,595.0 L203.0,590.5 Z" fill="#d0d0d0" stroke="#222" stroke-width="0.8"/>
<path d="M209.3,592.6 L215.7,583.0 L225.3,574.2 L236.6,571.8 L247.8,572.6 L257.4,575.8 L265.5,581.4 L273.5,587.8 L283.1,593.4 L289.6,595.8 L300.0,598.0 L300.0,630.0 L139.0,630.0 L139.0,616.0 L150.0,611.0 L165.0,607.5 L180.0,603.0 L195.0,597.5 L205.0,594.0 Z" fill="#dddddd" stroke="#222" stroke-width="0.8"/>
<path d="M207.7,597.4 L214.1,587.8 L225.3,581.4 L238.2,579.0 L249.4,580.6 L257.4,584.6 L263.9,591.0 L270.3,599.0 L278.3,607.1 L286.4,613.5 L294.0,620.0 L298.0,630.0 L143.0,630.0 L143.0,618.0 L152.0,613.0 L168.0,609.5 L184.0,605.0 L198.0,600.5 Z" fill="#e5e5e5" stroke="#222" stroke-width="0.8"/>
<path d="M206.0,602.3 L212.5,592.6 L222.1,587.8 L235.0,585.4 L246.2,585.4 L254.2,587.8 L260.7,594.2 L265.5,602.3 L268.7,613.5 L270.3,630.0 L206.0,630.0 L204.0,612.0 Z" fill="#f2f2f2" stroke="#222" stroke-width="0.8"/>
<path d="M153.0,606.0 C154.0,604.3 157.7,603.8 160.0,604.0 C162.3,604.2 164.3,606.3 167.0,607.0 C169.7,607.7 174.3,607.2 176.0,608.0 C177.7,608.8 177.8,610.8 177.0,612.0 C176.2,613.2 173.0,613.7 171.0,615.0 C169.0,616.3 167.3,618.9 165.0,619.6 C162.7,620.3 158.8,619.9 157.0,619.0 C155.2,618.1 154.7,616.2 154.0,614.0 C153.3,611.8 152.0,607.7 153.0,606.0 Z" fill="#d0d0d0" stroke="#222" stroke-width="0.8"/>
<path d="M161.0,614.0 C162.0,613.0 164.8,611.7 167.0,611.0 C169.2,610.3 173.0,609.7 174.0,610.0 C175.0,610.3 174.3,611.9 173.0,613.0 C171.7,614.1 168.0,615.8 166.0,616.5 C164.0,617.2 161.8,617.4 161.0,617.0 C160.2,616.6 160.0,615.0 161.0,614.0 Z" fill="#acacac" stroke="#222" stroke-width="0.8"/>
<path d="M182.0,605.0 C183.2,603.9 187.5,603.3 190.0,603.6 C192.5,603.9 196.0,605.3 197.0,607.0 C198.0,608.7 197.2,612.2 196.0,614.0 C194.8,615.8 192.0,617.7 190.0,618.0 C188.0,618.3 185.2,617.3 184.0,616.0 C182.8,614.7 183.3,611.8 183.0,610.0 C182.7,608.2 180.8,606.1 182.0,605.0 Z" fill="#d0d0d0" stroke="#222" stroke-width="0.8"/>
<line x1="145.6" y1="13" x2="145.6" y2="627" stroke="#1a1a1a" stroke-width="0.9"/>
<line x1="213.9" y1="13" x2="213.9" y2="627" stroke="#1a1a1a" stroke-width="0.9"/>
<line x1="282.2" y1="13" x2="282.2" y2="627" stroke="#1a1a1a" stroke-width="0.9"/>
<line x1="350.5" y1="13" x2="350.5" y2="627" stroke="#1a1a1a" stroke-width="0.9"/>
<line x1="418.8" y1="13" x2="418.8" y2="627" stroke="#1a1a1a" stroke-width="0.9"/>
<line x1="487.1" y1="13" x2="487.1" y2="627" stroke="#1a1a1a" stroke-width="0.9"/>
<line x1="77" y1="80.9" x2="555" y2="80.9" stroke="#1a1a1a" stroke-width="0.9"/>
<line x1="77" y1="149.3" x2="555" y2="149.3" stroke="#1a1a1a" stroke-width="0.9"/>
<line x1="77" y1="217.6" x2="555" y2="217.6" stroke="#1a1a1a" stroke-width="0.9"/>
<line x1="77" y1="286.0" x2="555" y2="286.0" stroke="#1a1a1a" stroke-width="0.9"/>
<line x1="77" y1="354.3" x2="555" y2="354.3" stroke="#1a1a1a" stroke-width="0.9"/>
<line x1="77" y1="422.6" x2="555" y2="422.6" stroke="#1a1a1a" stroke-width="0.9"/>
<line x1="77" y1="491.0" x2="555" y2="491.0" stroke="#1a1a1a" stroke-width="0.9"/>
<line x1="77" y1="559.3" x2="555" y2="559.3" stroke="#1a1a1a" stroke-width="0.9"/>
<polyline points="171.7,13 191,27 212.8,46.2 239.6,13" fill="none" stroke="#222" stroke-width="0.8" stroke-linejoin="miter"/>
<polyline points="326,13 264,85.6 383,333" fill="none" stroke="#222" stroke-width="0.8" stroke-linejoin="miter"/>
<polyline points="77,205.8 280,205.3" fill="none" stroke="#222" stroke-width="0.8" stroke-linejoin="miter"/>
<polyline points="280.7,205.3 280.7,214.5 372,213.8" fill="none" stroke="#222" stroke-width="0.8" stroke-linejoin="miter"/>
<polyline points="172.4,323 242.4,261.8 346,256.4 390,254.6" fill="none" stroke="#222" stroke-width="0.8" stroke-linejoin="miter"/>
<polyline points="417.2,221.7 455.2,272 380,242.1 330,232" fill="none" stroke="#222" stroke-width="0.8" stroke-linejoin="miter"/>
<polyline points="172.4,323 232,355.3 242.4,387.5 173.5,400 256,444.6 190,444.6" fill="none" stroke="#222" stroke-width="0.8" stroke-linejoin="miter"/>
<polyline points="76,480.7 226,421 346,363.6 370,354" fill="none" stroke="#222" stroke-width="0.8" stroke-linejoin="miter"/>
<polyline points="76,497.5 320,493" fill="none" stroke="#222" stroke-width="0.8" stroke-linejoin="miter"/>
<polyline points="76,561.7 150,603" fill="none" stroke="#222" stroke-width="0.8" stroke-linejoin="miter"/>
<polyline points="183,575 282,455 312,420" fill="none" stroke="#222" stroke-width="0.8" stroke-linejoin="miter"/>
<polyline points="312.1,308.5 383,333" fill="none" stroke="#222" stroke-width="0.8" stroke-linejoin="miter"/>
<polyline points="312.1,308.5 381.9,254.7 421.6,241" fill="none" stroke="#222" stroke-width="0.8" stroke-linejoin="miter"/>
<polyline points="421.6,240.7 354.8,302.5 420.8,355.5 348.5,352.9 397.8,389.4 336.5,448.1 375.7,481 303.2,563.9" fill="none" stroke="#000" stroke-width="1.6" stroke-linejoin="miter"/>
<circle cx="219.4" cy="365.4" r="1.6" fill="#f00"/>
<circle cx="190.3" cy="532.7" r="1.6" fill="#f00"/>
<circle cx="212.5" cy="567.3" r="1.6" fill="#f00"/>
<path d="M372.0,205.8 L384.9,124.2 L388.0,124.7 L384.2,114.5 L377.4,123.0 L380.5,123.5 L367.6,205.2 Z" fill="#ffa010" stroke="#000" stroke-width="1.3" stroke-linejoin="miter"/>
<path d="M380.7,205.5 L392.9,103.3 L397.0,103.8 L392.0,91.6 L384.3,102.3 L388.3,102.7 L376.1,204.9 Z" fill="#ff2a00" stroke="#000" stroke-width="1.3" stroke-linejoin="miter"/>
<path d="M372.0,355.7 L384.4,343.2 L387.1,345.9 L390.6,333.9 L378.6,337.5 L381.4,340.2 L369.0,352.7 Z" fill="#1ee6e6" stroke="#000" stroke-width="1.1" stroke-linejoin="miter"/>
<path d="M198.5,532.1 L205.2,521.1 L208.5,523.2 L208.9,511.1 L198.3,516.9 L201.6,519.0 L194.9,529.9 Z" fill="#1ee6e6" stroke="#000" stroke-width="1.1" stroke-linejoin="miter"/>
<path d="M318.7,565.8 L330.0,559.8 L331.8,563.3 L338.3,553.1 L326.2,552.7 L328.0,556.1 L316.7,562.0 Z" fill="#1ee6e6" stroke="#000" stroke-width="1.1" stroke-linejoin="miter"/>
<path d="M279.4,201.5 L274.2,204.2 L272.5,201.0 L265.7,211.3 L278.1,211.6 L276.3,208.3 L281.6,205.5 Z" fill="#1ee6e6" stroke="#000" stroke-width="1.1" stroke-linejoin="miter"/>
<path d="M400.0,203.5 L393.2,201.7 L394.0,198.7 L384.0,201.5 L391.4,208.8 L392.2,205.8 L399.0,207.5 Z" fill="#1ee6e6" stroke="#000" stroke-width="1.0" stroke-linejoin="miter"/>
<path d="M381.8,206.6 L385.2,203.8 L391.2,209.2 L388,211.2 Z" fill="#4a7ff0" stroke="#223" stroke-width="0.6"/>
<circle cx="370.1" cy="206.5" r="2.4" fill="#000"/>
<circle cx="378.6" cy="206.2" r="2.4" fill="#000"/>
<circle cx="387.2" cy="206.4" r="2.4" fill="#000"/>
<circle cx="399.5" cy="206.2" r="2.4" fill="#000"/>
<circle cx="280.1" cy="204" r="2.4" fill="#000"/>
<circle cx="370.5" cy="354.2" r="2.4" fill="#000"/>
<circle cx="196.7" cy="531" r="2.4" fill="#000"/>
<circle cx="317.7" cy="563.9" r="2.4" fill="#000"/>
<g font-weight="bold" font-size="15" fill="#000">
<text x="334" y="200.2">2713</text>
<text x="401.8" y="200.2">2712</text>
<text x="352.6" y="224.9">2711</text>
<text x="387.6" y="224.6">2710</text>
<text x="284.3" y="214.5">2714</text>
<text x="370.4" y="369.7">2716</text>
<text x="204.9" y="533.9">2496</text>
<text x="336.3" y="535.8" font-size="16.2">2527</text>
</g>
<g font-weight="bold" font-size="17" fill="#f00">
<text x="319.3" y="182.5">(0.145)</text>
<text x="435" y="197.5">(0.621)</text>
<text x="421.2" y="223">(0.069)</text>
<text x="341" y="241.8">(0.107)</text>
<text x="279" y="228.5">(0.277)</text>
<text x="363.8" y="383.2">(0.003)</text>
<text x="202" y="548.5">(-0.063)</text>
<text x="324.1" y="549.5">(-0.035)</text>
</g>
<g font-weight="bold" font-size="15.5" fill="#000" opacity="0.98">
<text x="0" y="0" transform="translate(442,257.5) rotate(7) scale(0.87,1)">4700</text>
<text x="0" y="0" transform="translate(229.5,453.5) rotate(-70) scale(0.87,1)">4600</text>
<text x="0" y="0" transform="translate(282.5,545) rotate(-23) scale(0.87,1)">4600</text>
<text x="0" y="0" transform="translate(473,500.5) rotate(-36) scale(0.87,1)">4600</text>
<text x="0" y="0" transform="translate(157.5,551.5) rotate(-70) scale(0.87,1)">4600</text>
</g>
</g>
<g stroke="#000" fill="none">
<line x1="70" y1="12.6" x2="555.3" y2="12.6" stroke-width="1.9"/>
<line x1="76.9" y1="11.7" x2="76.9" y2="628.5" stroke-width="1.9"/>
<line x1="70" y1="627.6" x2="555.8" y2="627.6" stroke-width="1.9"/>
<line x1="555.3" y1="12" x2="555.3" y2="628" stroke-width="1" stroke="#333"/>
<line x1="70" y1="12.6" x2="77" y2="12.6" stroke-width="1" stroke="#444"/>
<line x1="70" y1="80.9" x2="77" y2="80.9" stroke-width="1" stroke="#444"/>
<line x1="70" y1="149.3" x2="77" y2="149.3" stroke-width="1" stroke="#444"/>
<line x1="70" y1="217.6" x2="77" y2="217.6" stroke-width="1" stroke="#444"/>
<line x1="70" y1="286.0" x2="77" y2="286.0" stroke-width="1" stroke="#444"/>
<line x1="70" y1="354.3" x2="77" y2="354.3" stroke-width="1" stroke="#444"/>
<line x1="70" y1="422.6" x2="77" y2="422.6" stroke-width="1" stroke="#444"/>
<line x1="70" y1="491.0" x2="77" y2="491.0" stroke-width="1" stroke="#444"/>
<line x1="70" y1="559.3" x2="77" y2="559.3" stroke-width="1" stroke="#444"/>
<line x1="70" y1="627.7" x2="77" y2="627.7" stroke-width="1" stroke="#444"/>
<line x1="76.9" y1="627" x2="76.9" y2="637.5" stroke-width="1.8"/>
<line x1="111.1" y1="627" x2="111.1" y2="632" stroke-width="1" stroke="#333"/>
<line x1="145.3" y1="627" x2="145.3" y2="632" stroke-width="1" stroke="#333"/>
<line x1="179.5" y1="627" x2="179.5" y2="632" stroke-width="1" stroke="#333"/>
<line x1="213.7" y1="627" x2="213.7" y2="632" stroke-width="1" stroke="#333"/>
<line x1="247.9" y1="627" x2="247.9" y2="632" stroke-width="1" stroke="#333"/>
<line x1="282.1" y1="627" x2="282.1" y2="632" stroke-width="1" stroke="#333"/>
<line x1="316.3" y1="627" x2="316.3" y2="632" stroke-width="1" stroke="#333"/>
<line x1="350.5" y1="627" x2="350.5" y2="632" stroke-width="1" stroke="#333"/>
<line x1="384.7" y1="627" x2="384.7" y2="632" stroke-width="1" stroke="#333"/>
<line x1="418.9" y1="627" x2="418.9" y2="632" stroke-width="1" stroke="#333"/>
<line x1="453.1" y1="627" x2="453.1" y2="632" stroke-width="1" stroke="#333"/>
<line x1="487.3" y1="627" x2="487.3" y2="632" stroke-width="1" stroke="#333"/>
<line x1="521.5" y1="627" x2="521.5" y2="632" stroke-width="1" stroke="#333"/>
<line x1="555.7" y1="627" x2="555.7" y2="637.5" stroke-width="1.8"/>
<line x1="76.9" y1="8.5" x2="76.9" y2="12" stroke-width="0.7" stroke="#bbb"/>
<line x1="111.1" y1="8.5" x2="111.1" y2="12" stroke-width="0.7" stroke="#bbb"/>
<line x1="145.3" y1="8.5" x2="145.3" y2="12" stroke-width="0.7" stroke="#bbb"/>
<line x1="179.5" y1="8.5" x2="179.5" y2="12" stroke-width="0.7" stroke="#bbb"/>
<line x1="213.7" y1="8.5" x2="213.7" y2="12" stroke-width="0.7" stroke="#bbb"/>
<line x1="247.9" y1="8.5" x2="247.9" y2="12" stroke-width="0.7" stroke="#bbb"/>
<line x1="282.1" y1="8.5" x2="282.1" y2="12" stroke-width="0.7" stroke="#bbb"/>
<line x1="316.3" y1="8.5" x2="316.3" y2="12" stroke-width="0.7" stroke="#bbb"/>
<line x1="350.5" y1="8.5" x2="350.5" y2="12" stroke-width="0.7" stroke="#bbb"/>
<line x1="384.7" y1="8.5" x2="384.7" y2="12" stroke-width="0.7" stroke="#bbb"/>
<line x1="418.9" y1="8.5" x2="418.9" y2="12" stroke-width="0.7" stroke="#bbb"/>
<line x1="453.1" y1="8.5" x2="453.1" y2="12" stroke-width="0.7" stroke="#bbb"/>
<line x1="487.3" y1="8.5" x2="487.3" y2="12" stroke-width="0.7" stroke="#bbb"/>
<line x1="521.5" y1="8.5" x2="521.5" y2="12" stroke-width="0.7" stroke="#bbb"/>
<line x1="555.7" y1="8.5" x2="555.7" y2="12" stroke-width="0.7" stroke="#bbb"/>
<line x1="555.3" y1="12.6" x2="558.5" y2="12.6" stroke-width="0.7" stroke="#bbb"/>
<line x1="555.3" y1="46.8" x2="558.5" y2="46.8" stroke-width="0.7" stroke="#bbb"/>
<line x1="555.3" y1="80.9" x2="558.5" y2="80.9" stroke-width="0.7" stroke="#bbb"/>
<line x1="555.3" y1="115.1" x2="558.5" y2="115.1" stroke-width="0.7" stroke="#bbb"/>
<line x1="555.3" y1="149.3" x2="558.5" y2="149.3" stroke-width="0.7" stroke="#bbb"/>
<line x1="555.3" y1="183.5" x2="558.5" y2="183.5" stroke-width="0.7" stroke="#bbb"/>
<line x1="555.3" y1="217.6" x2="558.5" y2="217.6" stroke-width="0.7" stroke="#bbb"/>
<line x1="555.3" y1="251.8" x2="558.5" y2="251.8" stroke-width="0.7" stroke="#bbb"/>
<line x1="555.3" y1="286.0" x2="558.5" y2="286.0" stroke-width="0.7" stroke="#bbb"/>
<line x1="555.3" y1="320.1" x2="558.5" y2="320.1" stroke-width="0.7" stroke="#bbb"/>
<line x1="555.3" y1="354.3" x2="558.5" y2="354.3" stroke-width="0.7" stroke="#bbb"/>
<line x1="555.3" y1="388.5" x2="558.5" y2="388.5" stroke-width="0.7" stroke="#bbb"/>
<line x1="555.3" y1="422.6" x2="558.5" y2="422.6" stroke-width="0.7" stroke="#bbb"/>
<line x1="555.3" y1="456.8" x2="558.5" y2="456.8" stroke-width="0.7" stroke="#bbb"/>
<line x1="555.3" y1="491.0" x2="558.5" y2="491.0" stroke-width="0.7" stroke="#bbb"/>
<line x1="555.3" y1="525.2" x2="558.5" y2="525.2" stroke-width="0.7" stroke="#bbb"/>
<line x1="555.3" y1="559.3" x2="558.5" y2="559.3" stroke-width="0.7" stroke="#bbb"/>
<line x1="555.3" y1="593.5" x2="558.5" y2="593.5" stroke-width="0.7" stroke="#bbb"/>
<line x1="555.3" y1="627.7" x2="558.5" y2="627.7" stroke-width="0.7" stroke="#bbb"/>
</g>
<g font-size="27" fill="#000">
<text x="1.3" y="20.8">25.0</text>
<text x="1.3" y="88.0">25.2</text>
<text x="1.3" y="157.8">25.4</text>
<text x="1.3" y="226.9">25.6</text>
<text x="1.3" y="293.8">25.8</text>
<text x="1.3" y="364.5">26.0</text>
<text x="1.3" y="432.1">26.2</text>
<text x="1.3" y="501.8">26.4</text>
<text x="1.3" y="567.9">26.6</text>
<text x="1.3" y="630.7">26.8</text>
<text x="1.5" y="48">deg S</text>
<text x="59.8" y="663.8">34.4 deg W</text>
<text x="188" y="663.8">34.0</text>
<text x="362.3" y="663.8">33.5</text>
<text x="530.2" y="663.8">33.0</text>
</g>
<g stroke="#444" stroke-width="1.1">
<rect x="594.8" y="83.7" width="29.7" height="44.1" fill="#f2f2f2"/>
<rect x="594.8" y="127.8" width="29.7" height="44.1" fill="#ebebeb"/>
<rect x="594.8" y="171.9" width="29.7" height="44.1" fill="#e5e5e5"/>
<rect x="594.8" y="216.0" width="29.7" height="44.1" fill="#dddddd"/>
<rect x="594.8" y="260.1" width="29.7" height="44.1" fill="#d0d0d0"/>
<rect x="594.8" y="304.2" width="29.7" height="44.1" fill="#acacac"/>
<rect x="594.8" y="348.3" width="29.7" height="44.1" fill="#8e8e8e"/>
<rect x="594.8" y="392.4" width="29.7" height="44.1" fill="#7a7a7a"/>
<rect x="594.8" y="436.5" width="29.7" height="44.1" fill="#666666"/>
<rect x="594.8" y="480.6" width="29.7" height="44.1" fill="#454545"/>
<rect x="594.8" y="524.7" width="29.7" height="44.1" fill="#2e2e2e"/>
</g>
<g font-size="26.7" font-weight="bold" fill="#000">
<text x="576.6" y="62.9">Depth, m</text>
<text x="629.5" y="179.8">4200</text>
<text x="629.5" y="268.0">4400</text>
<text x="629.5" y="356.2">4600</text>
<text x="629.5" y="444.4">4800</text>
<text x="629.5" y="532.6">5000</text>
</g>
<rect x="77.5" y="13.2" width="113.7" height="75.2" fill="#fff" stroke="#000" stroke-width="2"/>
<g font-size="15.6" font-weight="bold" fill="#000">
<text x="88.7" y="37">Velocity Scale</text>
<text x="108.2" y="75.5">30 cm/s</text>
</g>
<line x1="171.7" y1="13" x2="191" y2="27.2" stroke="#222" stroke-width="0.8"/>
<path d="M88.5,50.8 L168.3,50.8 L168.3,46.6 L181.6,53.4 L168.3,60.2 L168.3,55.9 L88.5,55.9 A2.55,2.55 0 0 1 88.5,50.8 Z" fill="#000"/>
<rect x="289.5" y="568.8" width="265.5" height="58" fill="#fff" stroke="#000" stroke-width="2"/>
<text x="321" y="584" font-size="14" font-weight="bold">Velocity, cm/s</text>
<rect x="296" y="590.8" width="251.4" height="15.3" fill="url(#vg)" stroke="#222" stroke-width="1"/>
<g stroke="#222" stroke-width="1">
<line x1="296.0" y1="606" x2="296.0" y2="611" />
<line x1="327.4" y1="606" x2="327.4" y2="611" />
<line x1="358.9" y1="606" x2="358.9" y2="611" />
<line x1="390.3" y1="606" x2="390.3" y2="611" />
<line x1="421.7" y1="606" x2="421.7" y2="611" />
<line x1="453.1" y1="606" x2="453.1" y2="611" />
<line x1="484.6" y1="606" x2="484.6" y2="611" />
<line x1="516.0" y1="606" x2="516.0" y2="611" />
<line x1="547.4" y1="606" x2="547.4" y2="611" />
</g>
<g font-size="9.5" font-weight="bold" text-anchor="middle">
<text x="296.0" y="622.5">0</text>
<text x="327.4" y="622.5">5</text>
<text x="358.9" y="622.5">10</text>
<text x="390.3" y="622.5">15</text>
<text x="421.7" y="622.5">20</text>
<text x="453.1" y="622.5">25</text>
<text x="484.6" y="622.5">30</text>
<text x="516.0" y="622.5">35</text>
<text x="547.4" y="622.5">40</text>
</g>
<rect x="631" y="74.8" width="1.4" height="2" fill="#888"/>
</g>
</svg>
</body></html>
